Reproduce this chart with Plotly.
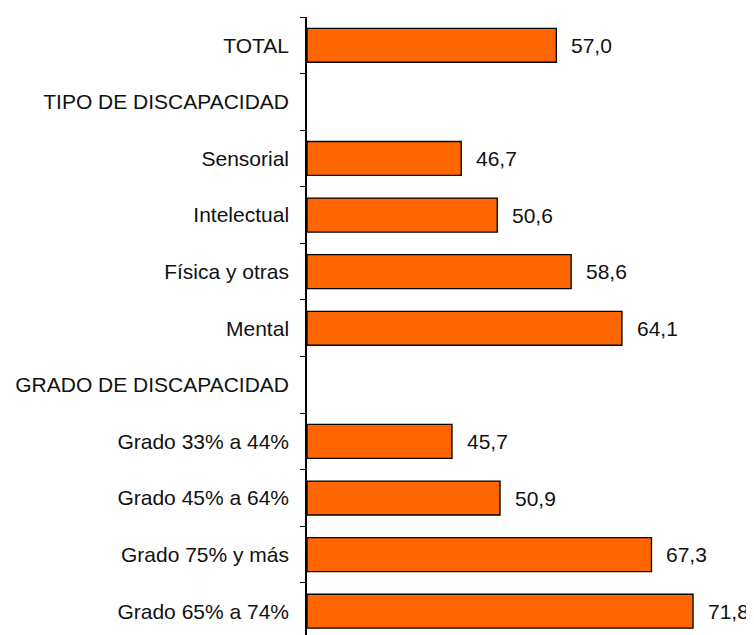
import plotly.graph_objects as go

categories = ["TOTAL", "TIPO DE DISCAPACIDAD", "Sensorial", "Intelectual",
              "Física y otras", "Mental", "GRADO DE DISCAPACIDAD",
              "Grado 33% a 44%", "Grado 45% a 64%", "Grado 75% y más",
              "Grado 65% a 74%"]
values = [57.0, None, 46.7, 50.6, 58.6, 64.1, None, 45.7, 50.9, 67.3, 71.8]
value_labels = ["57,0", "", "46,7", "50,6", "58,6", "64,1", "", "45,7", "50,9", "67,3", "71,8"]

AXIS_MIN = 30
FONT = "Liberation Sans, Arial, sans-serif"
FS = 21

fig = go.Figure()
fig.add_trace(go.Bar(
    y=categories,
    x=[None if v is None else v - AXIS_MIN for v in values],
    base=AXIS_MIN, orientation="h",
    marker=dict(color="#FF6600", line=dict(color="#000000", width=1.3)),
    width=0.6, hoverinfo="skip",
))

for c, v, t in zip(categories, values, value_labels):
    if v is None:
        continue
    fig.add_annotation(x=v, y=c, text=t, showarrow=False, xanchor="left",
                       xshift=13, font=dict(family=FONT, size=FS, color="#111111"))

fig.update_layout(
    width=746, height=627,
    margin=dict(l=299, r=0, t=9, b=0),
    plot_bgcolor="white", paper_bgcolor="white",
    showlegend=False,
    font=dict(family=FONT, size=FS, color="#111111"),
)
fig.update_xaxes(range=[AXIS_MIN, 78.4], visible=False, fixedrange=True)
fig.update_yaxes(
    categoryorder="array", categoryarray=categories,
    range=[10.42, -0.5], showline=True, linecolor="black", linewidth=1.5,
    ticks="outside", tickson="boundaries", ticklen=5, tickcolor="black",
    showgrid=False, zeroline=False, ticklabelstandoff=12,
    tickfont=dict(family=FONT, size=FS, color="#111111"),
)
fig.write_html("out.html")
